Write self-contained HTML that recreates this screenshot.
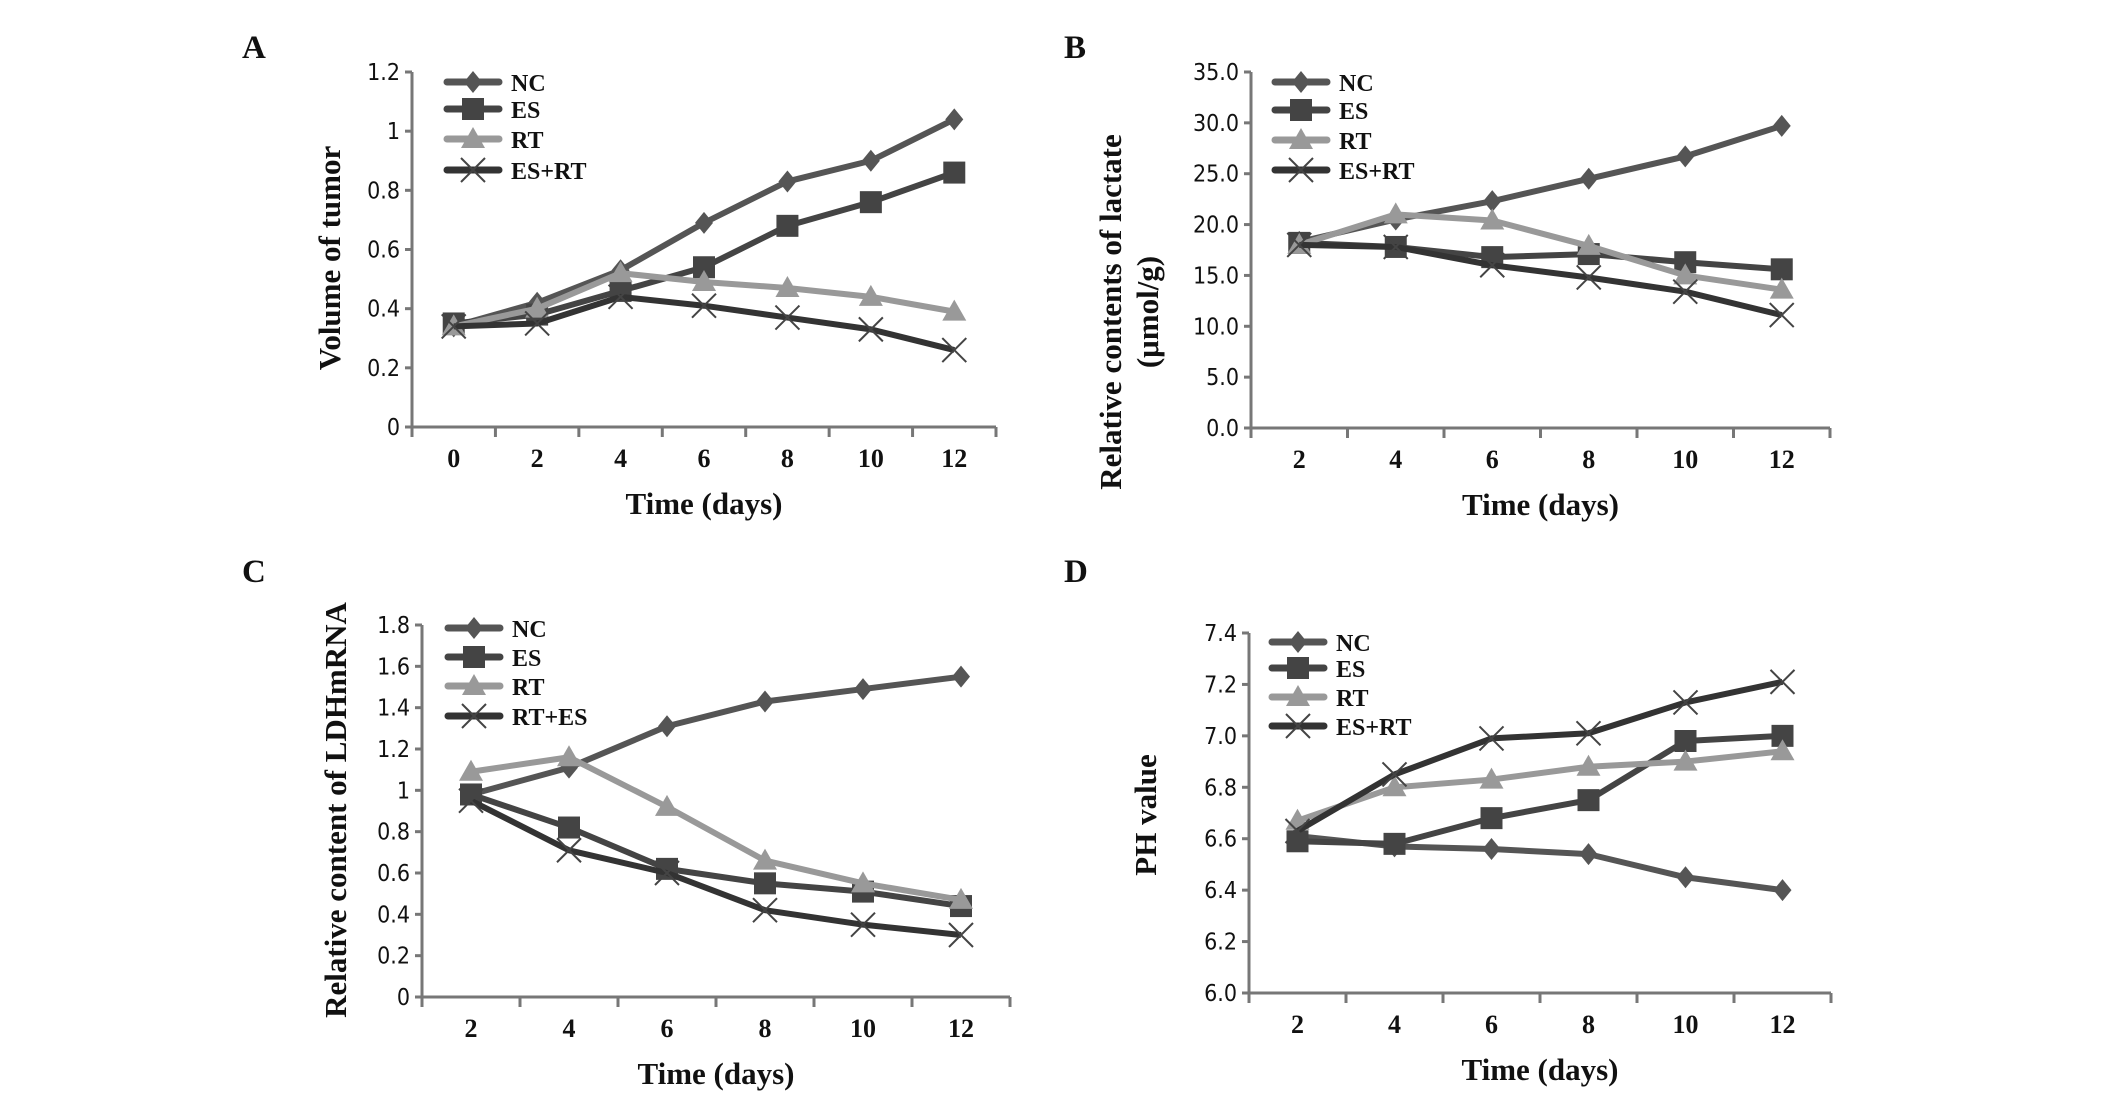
<!DOCTYPE html>
<html><head><meta charset="utf-8"><style>
html,body{margin:0;padding:0;background:#fff;}
svg{display:block;}
.tk{font-family:"DejaVu Sans Condensed","DejaVu Sans","Liberation Sans",sans-serif;font-size:23px;font-weight:500;fill:#111;}
.xt{font-family:"Liberation Serif",serif;font-weight:bold;font-size:26px;fill:#111;}
.tt{font-family:"Liberation Serif",serif;font-weight:bold;font-size:31px;fill:#111;}
.lg{font-family:"Liberation Serif",serif;font-weight:bold;font-size:24px;fill:#111;}
.pl{font-family:"Liberation Serif",serif;font-weight:bold;font-size:33px;fill:#111;}
</style></head><body>
<svg id="fig" width="2126" height="1097" viewBox="0 0 2126 1097" xmlns="http://www.w3.org/2000/svg"></svg>
<script>
const catsA=[0,2,4,6,8,10,12];
const catsB=[2,4,6,8,10,12];
const namesA=["NC","ES","RT","ES+RT"];
const namesC=["NC","ES","RT","RT+ES"];
const A_NC=[0.34,0.42,0.53,0.69,0.83,0.90,1.04];
const A_ES=[0.35,0.38,0.46,0.54,0.68,0.76,0.86];
const A_RT=[0.34,0.40,0.52,0.49,0.47,0.44,0.39];
const A_X=[0.34,0.35,0.44,0.41,0.37,0.33,0.26];
const B_NC=[18.3,20.5,22.3,24.5,26.7,29.7];
const B_ES=[18.2,17.8,16.8,17.1,16.3,15.6];
const B_RT=[18.0,21.0,20.4,17.9,15.0,13.6];
const B_X=[18.0,17.8,16.0,14.8,13.4,11.1];
const C_NC=[0.98,1.11,1.31,1.43,1.49,1.55];
const C_ES=[0.98,0.82,0.62,0.55,0.51,0.44];
const C_RT=[1.09,1.16,0.92,0.66,0.55,0.47];
const C_X=[0.95,0.71,0.60,0.42,0.35,0.30];
const D_NC=[6.61,6.57,6.56,6.54,6.45,6.40];
const D_ES=[6.59,6.58,6.68,6.75,6.98,7.00];
const D_RT=[6.67,6.80,6.83,6.88,6.90,6.94];
const D_X=[6.63,6.85,6.99,7.01,7.13,7.21];
const ticksA=["0","0.2","0.4","0.6","0.8","1","1.2"];
const ticksB=["0.0","5.0","10.0","15.0","20.0","25.0","30.0","35.0"];
const ticksC=["0","0.2","0.4","0.6","0.8","1","1.2","1.4","1.6","1.8"];
const ticksD=["6.0","6.2","6.4","6.6","6.8","7.0","7.2","7.4"];

const NS="http://www.w3.org/2000/svg";
const svg=document.getElementById('fig');
function mk(tag,attrs,parent,txt){const e=document.createElementNS(NS,tag);for(const k in attrs)e.setAttribute(k,attrs[k]);if(txt!==undefined)e.textContent=txt;(parent||svg).appendChild(e);return e;}
const colors=["#555","#444","#999","#333"];
function marker(g,kind,x,y,c){
  let m;
  if(kind===0){m=mk('polygon',{points:`${x},${y-11} ${x+9},${y} ${x},${y+11} ${x-9},${y}`,fill:c},g);}
  else if(kind===1){m=mk('rect',{x:x-11,y:y-11,width:22,height:22,fill:c},g);}
  else if(kind===2){m=mk('polygon',{points:`${x},${y-12} ${x+12},${y+9} ${x-12},${y+9}`,fill:c},g);}
  else {m=mk('path',{d:`M${x-12},${y-12}L${x+12},${y+12}M${x+12},${y-12}L${x-12},${y+12}`,stroke:"#444","stroke-width":2,fill:"none"},g);}
  
  
}
function panel(p){
  const g=mk('g',{});
  
  
  const n=p.cats.length, band=(p.x1-p.x0)/n;
  const xs=i=>p.x0+band*(i+0.5);
  const ys=v=>p.yb-(v-p.ymin)/(p.ymax-p.ymin)*(p.yb-p.yt);
  const pl=mk('text',{x:p.lx,y:p.ly,class:'pl'},g,p.id);
  
  const ax=mk('path',{d:`M${p.x0},${p.yt}V${p.yb}H${p.x1}`,stroke:"#777","stroke-width":3,fill:"none"},g);
  
  p.ticks.forEach((t,i)=>{const v=p.ymin+(p.ymax-p.ymin)*i/(p.ticks.length-1);const y=ys(v);
    mk('line',{x1:p.x0-7,x2:p.x0,y1:y,y2:y,stroke:"#777","stroke-width":3},g);
    const tx=mk('text',{x:p.x0-12,y:y+8,class:'tk','text-anchor':'end'},g,t);
    });
  for(let i=0;i<=n;i++){const x=p.x0+band*i;mk('line',{x1:x,x2:x,y1:p.yb,y2:p.yb+10,stroke:"#777","stroke-width":3},g);}
  p.cats.forEach((c,i)=>{const tx=mk('text',{x:xs(i),y:p.yb+40,class:'xt','text-anchor':'middle'},g,String(c));
    });
  const xt=mk('text',{x:(p.x0+p.x1)/2,y:p.yb+87,class:'tt','text-anchor':'middle'},g,"Time (days)");
  
  p.ytitle.forEach((s,k)=>{const yt=mk('text',{x:0,y:0,class:'tt','text-anchor':'middle',transform:`translate(${p.ytx+k*37},${p.yty}) rotate(-90)`},g,s);
    });
  p.series.forEach((s,si)=>{
    const d=s.map((v,i)=>(i?'L':'M')+xs(i)+','+ys(v)).join('');
    const ln=mk('path',{d:d,stroke:colors[si],"stroke-width":6,fill:"none","stroke-linejoin":"round"},g);
    
    
    s.forEach((v,i)=>marker(g,si,xs(i),ys(v),colors[si]));
  });
  p.names.forEach((nm,si)=>{const y=p.legY[si];
    const lg=mk('g',{},g);
    
    mk('line',{x1:p.legX,x2:p.legX+52,y1:y,y2:y,stroke:colors[si],"stroke-width":7,"stroke-linecap":"round"},lg);
    marker(lg,si,p.legX+26,y,colors[si]);
    mk('text',{x:p.legX+64,y:y+9,class:'lg'},lg,nm);});
}
panel({id:"A",lx:242,ly:58,x0:412,x1:996,yt:72,yb:427,ymin:0,ymax:1.2,cats:catsA,ticks:ticksA,
  series:[A_NC,A_ES,A_RT,A_X],names:namesA,legX:447,legY:[82,109,139,170],ytitle:["Volume of tumor"],ytx:340,yty:258});
panel({id:"B",lx:1064,ly:58,x0:1251,x1:1830,yt:72,yb:428,ymin:0,ymax:35,cats:catsB,ticks:ticksB,
  series:[B_NC,B_ES,B_RT,B_X],names:namesA,legX:1275,legY:[82,110,140,170],ytitle:["Relative contents of lactate","(μmol/g)"],ytx:1121,yty:312});
panel({id:"C",lx:242,ly:582,x0:422,x1:1010,yt:625,yb:997,ymin:0,ymax:1.8,cats:catsB,ticks:ticksC,
  series:[C_NC,C_ES,C_RT,C_X],names:namesC,legX:448,legY:[628,657,686,716],ytitle:["Relative content of LDHmRNA"],ytx:346,yty:810});
panel({id:"D",lx:1064,ly:582,x0:1249,x1:1831,yt:633,yb:993,ymin:6.0,ymax:7.4,cats:catsB,ticks:ticksD,
  series:[D_NC,D_ES,D_RT,D_X],names:namesA,legX:1272,legY:[642,668,697,726],ytitle:["PH value"],ytx:1156,yty:815});
</script>
</body></html>
